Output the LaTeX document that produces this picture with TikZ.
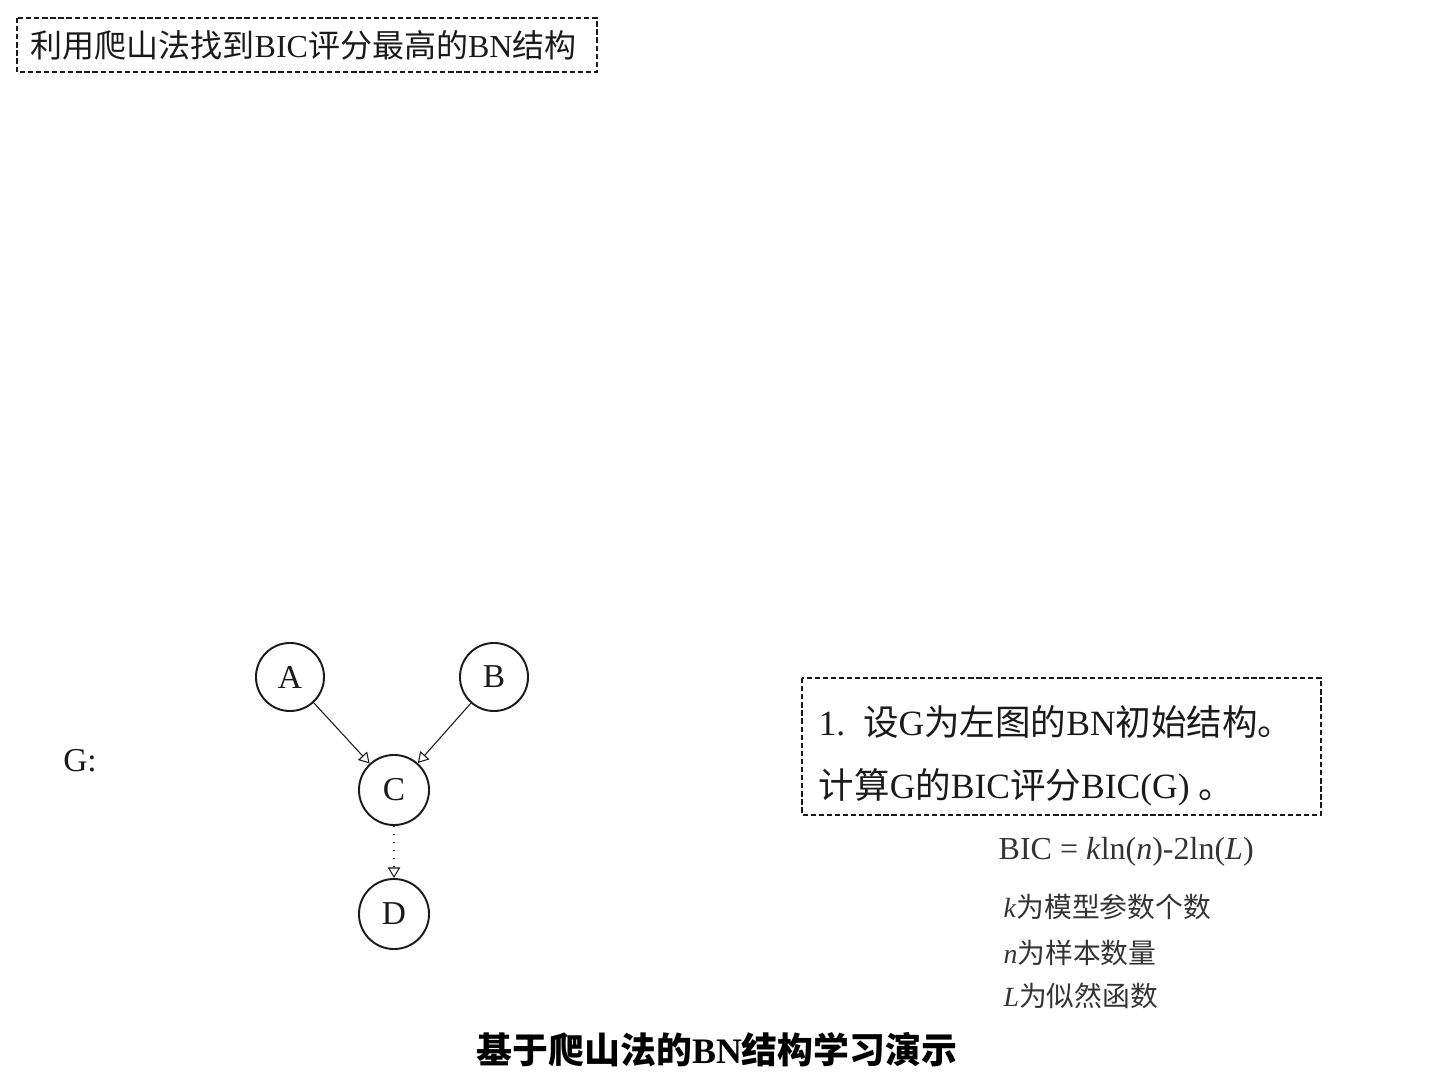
\documentclass[tikz,border=0pt]{standalone}
\usepackage{fontspec}
\setmainfont{Liberation Serif}
\newfontfamily\cjk{Noto Sans CJK SC}
\usepackage{tikz}
\usetikzlibrary{arrows.meta}
\definecolor{ink}{HTML}{1A1A1A}
\definecolor{grey}{HTML}{333333}
\newcommand{\zh}[1]{{\cjk #1}}

\tikzset{
    var/.style={circle, draw=ink, line width=0.55pt, minimum size=0.68cm, inner sep=0pt,
                font=\fontsize{9.5}{11}\selectfont, text=ink},
    link/.style={draw=ink, line width=0.3pt, -{Triangle[open, length=3pt, width=3.5pt]}},
    dashbox/.style={draw=ink, line width=0.5pt, dash pattern=on 1.5pt off 0.8pt},
    note/.style={anchor=west, inner sep=0pt, text=grey}
}

\begin{document}
\begin{tikzpicture}[x=0.01cm, y=-0.01cm]
        \useasboundingbox (0,0) rectangle (1440,1080);
        % headline
        \draw[dashbox] (17,18) rectangle (597,72);
        \node[anchor=west, inner sep=0pt, text=ink, font=\fontsize{9.1}{11}\selectfont] (head) at (30,45)
            {\zh{利用爬山法找到}BIC\zh{评分最高的}BN\zh{结构}};

        % the network G
        \node[var] (A) at (290,677) {A};
        \node[var] (B) at (494,677) {B};
        \node[var, minimum size=0.7cm] (C) at (394,790) {C};
        \node[var, minimum size=0.7cm] (D) at (394,914) {D};
        \node[text=ink, font=\fontsize{9.5}{11}\selectfont] (glabel) at (80,761) {G:};
        \draw[link] (A) -- (C);
        \draw[link] (B) -- (C);
        \draw[link, dotted] (C) -- (D);

        % step one
        \draw[dashbox] (802,678) rectangle (1321,815);
        \node[anchor=west, inner sep=0pt, text=ink, font=\fontsize{10.1}{12}\selectfont] (step1) at (818,722)
            {1.\ \ \zh{设}G\zh{为左图的}BN\zh{初始结构。}};
        \node[anchor=west, inner sep=0pt, text=ink, font=\fontsize{10.1}{12}\selectfont] (step2) at (818,787)
            {\zh{计算}G\zh{的}BIC\zh{评分}BIC(G) \zh{。}};

        % score
        \node[note, font=\fontsize{9.1}{11}\selectfont] (bic) at (998,852)
            {BIC = \textit{k}ln(\textit{n})-2ln(\textit{L})};
        \node[note, font=\fontsize{7.9}{9}\selectfont] (kdef) at (1003,907) {\textit{k}\zh{为模型参数个数}};
        \node[note, font=\fontsize{7.9}{9}\selectfont] (ndef) at (1003,953) {\textit{n}\zh{为样本数量}};
        \node[note, font=\fontsize{7.9}{9}\selectfont] (ldef) at (1003,996) {\textit{L}\zh{为似然函数}};

        % caption
        \node[text=black, font=\fontsize{10.2}{12}\selectfont\bfseries] (caption) at (717,1050)
            {\zh{基于爬山法的}BN\zh{结构学习演示}};
    \end{tikzpicture}
\end{document}
